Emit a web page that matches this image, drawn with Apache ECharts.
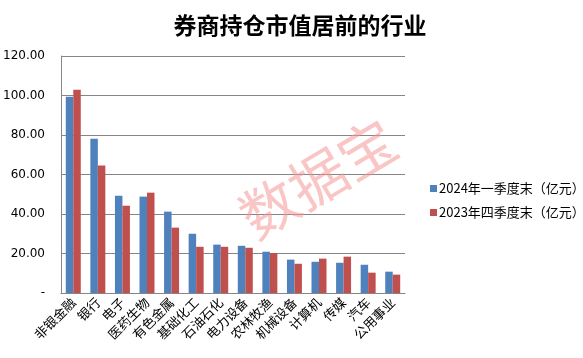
<!DOCTYPE html>
<html><head><meta charset="utf-8">
<script src="https://cdn.jsdelivr.net/npm/echarts@6/dist/echarts.min.js"></script>
<style>html,body{margin:0;padding:0;background:#fff}#c{width:583px;height:358px}</style>
</head><body><div id="c"></div>
<script>
const categories = ['非银金融','银行','电子','医药生物','有色金属','基础化工','石油石化','电力设备','农林牧渔','机械设备','计算机','传媒','汽车','公用事业'];
const q1_2024 = [99.4,78.1,49.3,48.8,41.2,30.0,24.5,23.9,20.9,16.9,15.8,15.3,14.3,10.8];
const q4_2023 = [102.9,64.5,44.2,50.8,33.1,23.4,23.4,22.9,20.2,14.8,17.4,18.4,10.3,9.3];
const seriesNames = ['2024年一季度末（亿元）','2023年四季度末（亿元）'];
const yTicks = {min:0,max:120,interval:20};

const cjk = '"Noto Sans CJK SC", sans-serif';
const chart = echarts.init(document.getElementById('c'));
chart.setOption({
  animation:false,
  title:{text:'券商持仓市值居前的行业',left:295,textAlign:'center',top:9,
    textStyle:{fontSize:23,fontWeight:'bold',color:'#000',fontFamily:cjk}},
  legend:{orient:'vertical',left:425,top:177,itemWidth:7,itemHeight:7,itemGap:11,icon:'rect',
    textStyle:{fontSize:13,color:'#000',fontFamily:cjk,padding:[0,0,0,-3]},data:seriesNames},
  grid:{left:61,right:178,top:56,bottom:65},
  xAxis:{type:'category',data:categories,
    axisLine:{lineStyle:{color:'#868686'}},axisTick:{show:false},
    axisLabel:{rotate:45,interval:0,fontSize:13,color:'#000',fontFamily:cjk,margin:7}},
  yAxis:{type:'value',min:yTicks.min,max:yTicks.max,interval:yTicks.interval,
    axisLine:{show:true,lineStyle:{color:'#868686'}},axisTick:{show:false},
    splitLine:{lineStyle:{color:'#868686'}},
    axisLabel:{fontSize:12,color:'#000',margin:16,fontFamily:'"DejaVu Sans", sans-serif',
      formatter:v=> v===0 ? '-' : v.toFixed(2)}},
  series:[
    {name:seriesNames[0],type:'bar',data:q1_2024,barGap:'0%',barCategoryGap:'39%',itemStyle:{color:'#4F81BD'}},
    {name:seriesNames[1],type:'bar',data:q4_2023,itemStyle:{color:'#C0504D'}}
  ],
  graphic:[{type:'text',left:230,top:110,rotation:Math.PI*31/180,z:100,
    style:{text:'数据宝',fontSize:57,fontFamily:cjk,fill:'rgba(245,150,150,0.55)'}}]
});
</script></body></html>
